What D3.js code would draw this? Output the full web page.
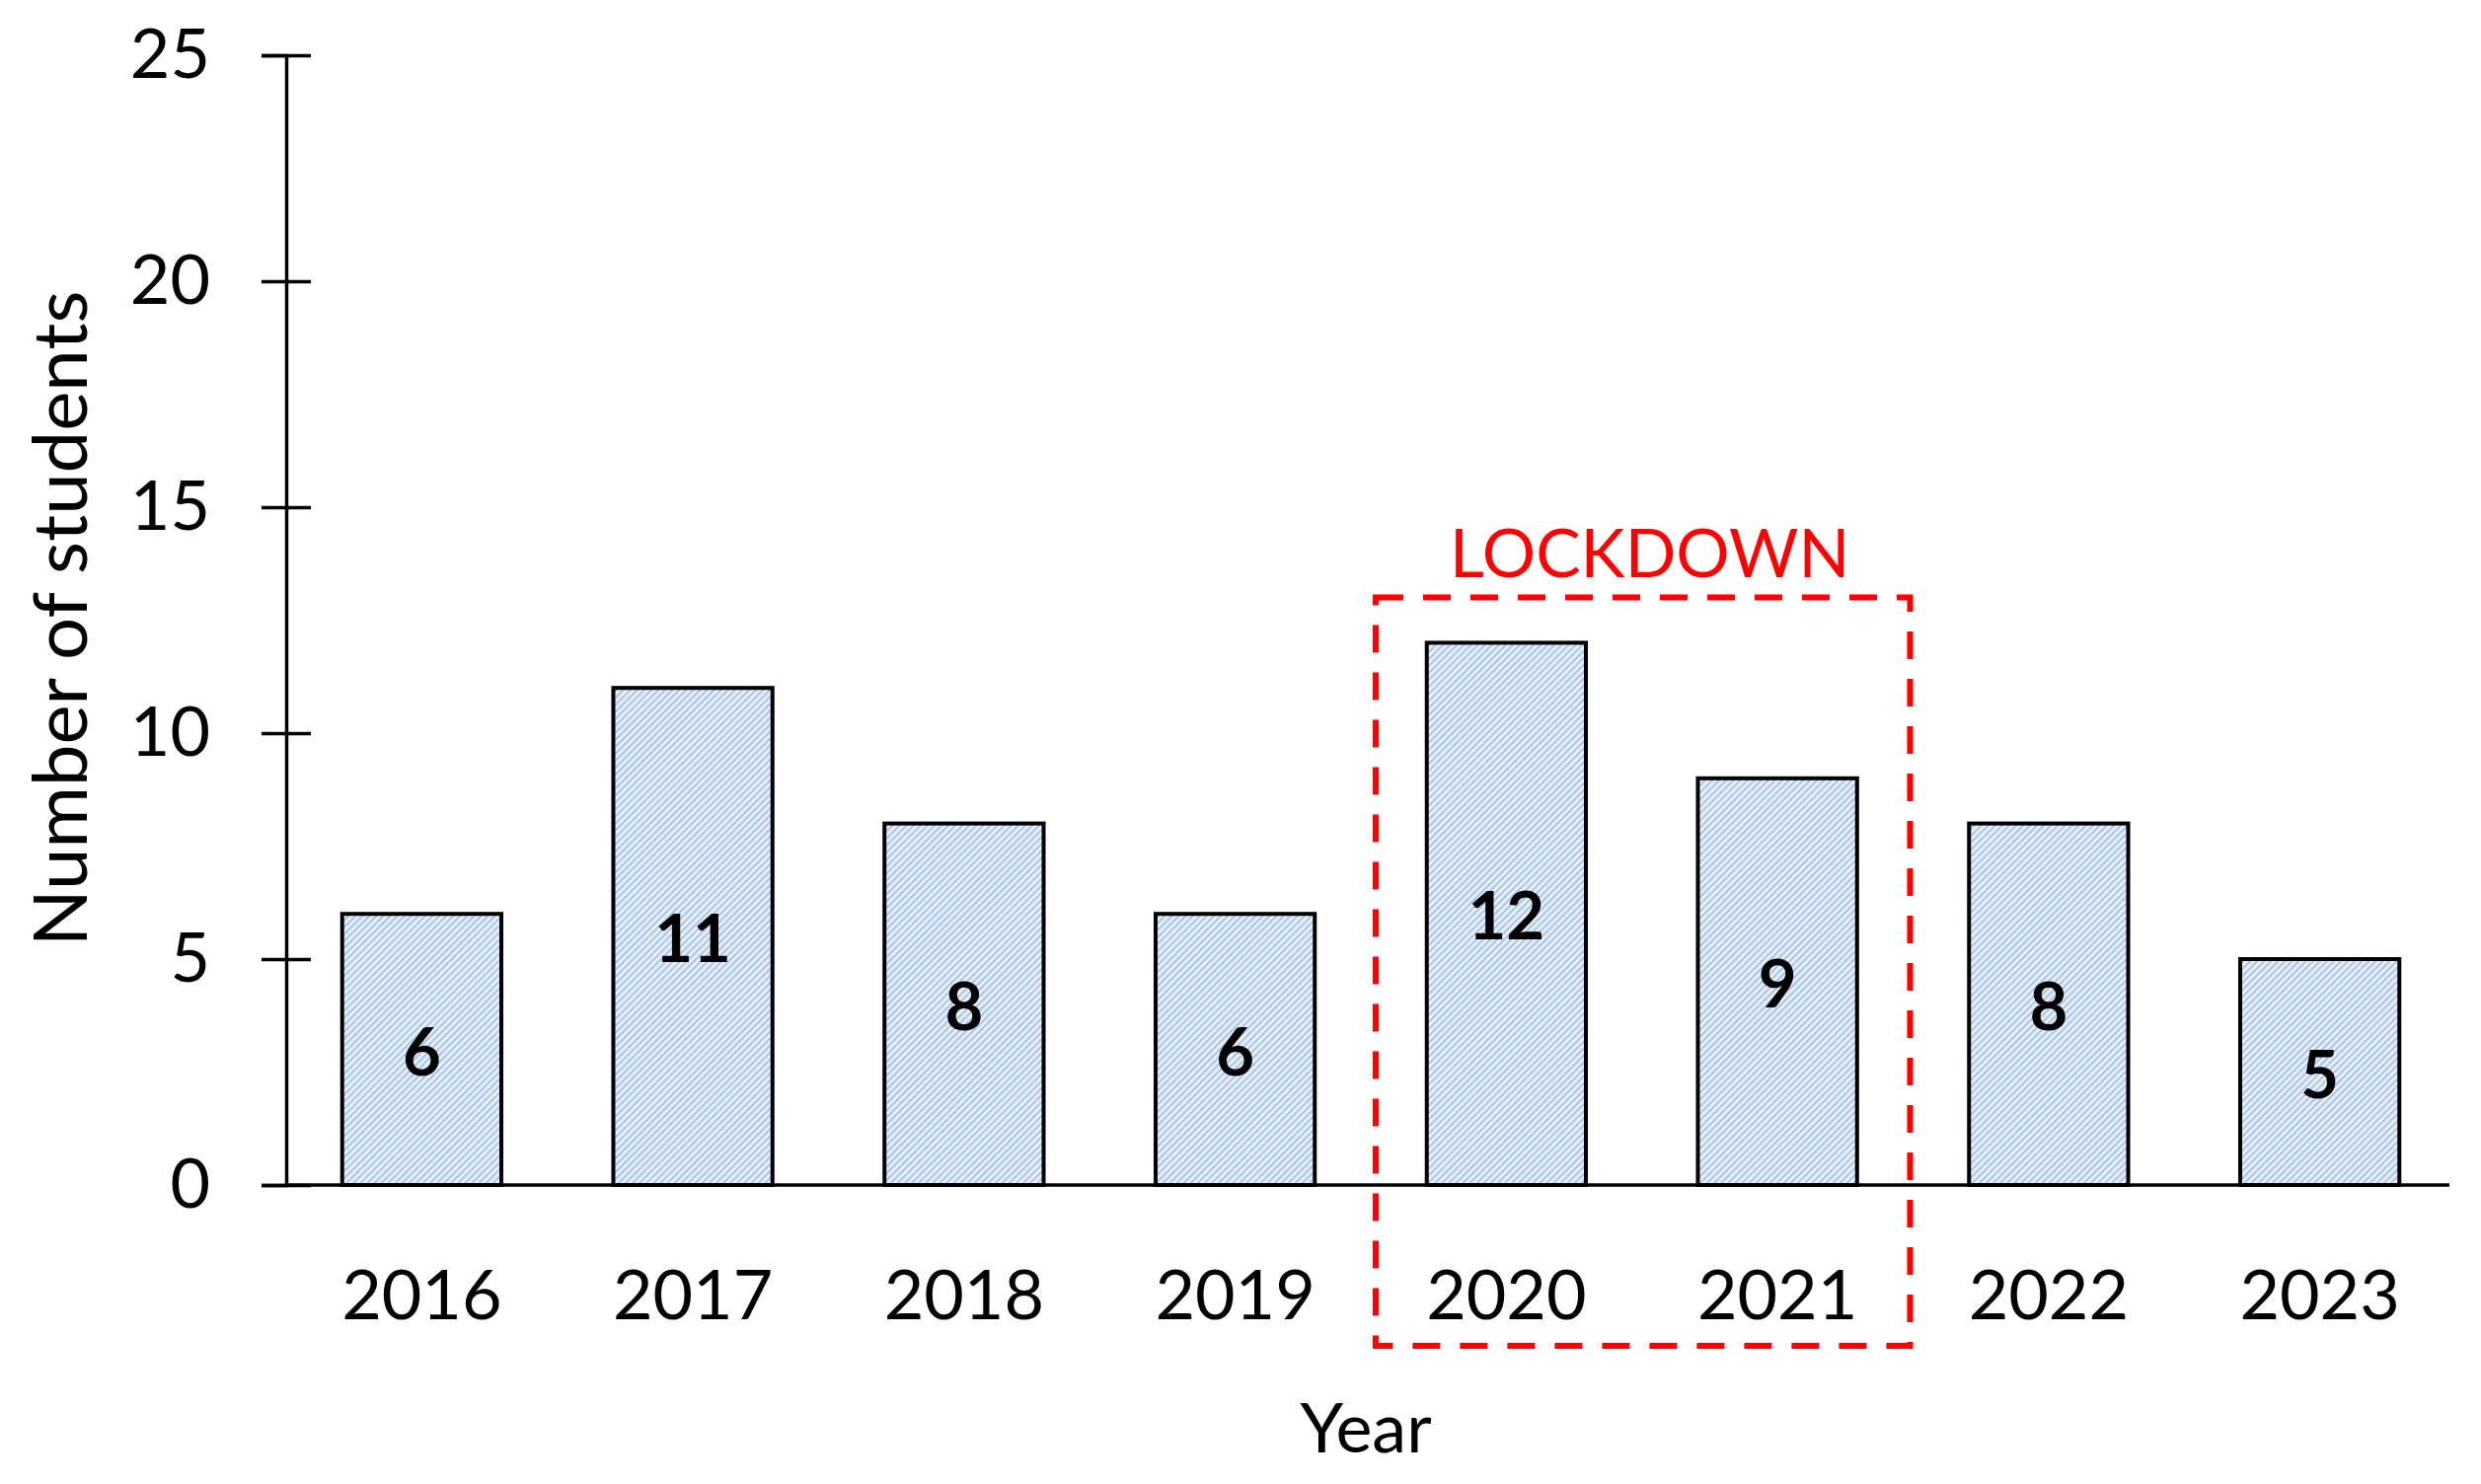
<!DOCTYPE html>
<html>
<head>
<meta charset="utf-8">
<script src="https://cdn.jsdelivr.net/npm/d3@7"></script>
<style>
  html, body { margin: 0; padding: 0; background: #fff; }
  svg { display: block; }
  text { font-family: Lato, "Open Sans", sans-serif; }
</style>
</head>
<body>
<script>
// ---- data ----
const years = ["2016", "2017", "2018", "2019", "2020", "2021", "2022", "2023"];
const students = [6, 11, 8, 6, 12, 9, 8, 5];
const yTicks = [0, 5, 10, 15, 20, 25];
const lockdownYears = ["2020", "2021"];
const lockdownTop = 13;
const lockdownLabel = "LOCKDOWN";
const xTitle = "Year";
const yTitle = "Number of students";

// ---- layout ----
const W = 2514, H = 1504;
const mLeft = 290, mRight = 2488, axisEnd = 2482, mTop = 56, mBottom = 1201;

const svg = d3.select("body").append("svg").attr("width", W).attr("height", H);

const defs = svg.append("defs");
const pat = defs.append("pattern")
  .attr("id", "hatch")
  .attr("patternUnits", "userSpaceOnUse")
  .attr("width", 5).attr("height", 5)
  .attr("patternTransform", "rotate(45)");
pat.append("rect").attr("width", 5).attr("height", 5).attr("fill", "#edf2fb");
pat.append("rect").attr("x", 0).attr("width", 2.2).attr("height", 5).attr("fill", "#a9c5ec");

const x = d3.scaleBand().domain(years).range([mLeft, mRight]).padding(0);
const y = d3.scaleLinear().domain([0, 25]).range([mBottom, mTop]);
const barW = x.bandwidth() * 0.587;

// bars
const g = svg.append("g");
g.selectAll("rect.bar").data(years).join("rect")
  .attr("class", "bar")
  .attr("x", d => x(d) + x.bandwidth() / 2 - barW / 2)
  .attr("y", (d, i) => y(students[i]))
  .attr("width", barW)
  .attr("height", (d, i) => y(0) - y(students[i]))
  .attr("fill", "url(#hatch)")
  .attr("stroke", "#000")
  .attr("stroke-width", 4);

// value labels
g.selectAll("text.val").data(years).join("text")
  .attr("class", "val")
  .attr("x", d => x(d) + x.bandwidth() / 2)
  .attr("y", (d, i) => (y(students[i]) + y(0)) / 2)
  .attr("text-anchor", "middle")
  .attr("dominant-baseline", "central")
  .attr("font-size", 67)
  .attr("font-weight", "bold")
  .attr("fill", "#000")
  .text((d, i) => students[i]);

// y axis
const yAxis = svg.append("g")
  .attr("transform", `translate(${mLeft},0)`)
  .call(d3.axisLeft(y).tickValues(yTicks).tickSizeOuter(0).tickSize(25).tickPadding(52));
yAxis.select(".domain").attr("stroke", "#000").attr("stroke-width", 3.5);
yAxis.selectAll(".tick line").attr("x1", -25).attr("x2", 25).attr("stroke", "#000").attr("stroke-width", 3.5);
yAxis.selectAll(".tick text")
  .attr("font-size", 70).attr("font-family", "Lato, sans-serif").attr("fill", "#000");

// x axis
const xAxis = svg.append("g")
  .attr("transform", `translate(0,${mBottom})`)
  .call(d3.axisBottom(x).tickSize(0).tickSizeOuter(0).tickPadding(85));
xAxis.select(".domain").attr("d", `M${mLeft},0H${axisEnd}`).attr("stroke", "#000").attr("stroke-width", 3.5);
xAxis.selectAll(".tick text")
  .attr("font-size", 70).attr("font-family", "Lato, sans-serif").attr("fill", "#000")
  .attr("dy", "0")
  .attr("dominant-baseline", "central").attr("y", 109);

// axis titles
svg.append("text")
  .attr("x", 1384)
  .attr("y", 1472)
  .attr("text-anchor", "middle")
  .attr("font-size", 70)
  .attr("fill", "#000")
  .text(xTitle);

svg.append("text")
  .attr("transform", `translate(88,${627}) rotate(-90)`)
  .attr("text-anchor", "middle")
  .attr("font-size", 76)
  .attr("fill", "#000")
  .text(yTitle);

// lockdown box
const bx0 = x(lockdownYears[0]) + 5;
const bx1 = x(lockdownYears[1]) + x.bandwidth() - 3;
const by0 = y(lockdownTop);
const by1 = y(0) + 163;
svg.append("rect")
  .attr("x", bx0).attr("y", by0)
  .attr("width", bx1 - bx0).attr("height", by1 - by0)
  .attr("fill", "none")
  .attr("stroke", "#ff0000")
  .attr("stroke-width", 6)
  .attr("stroke-dasharray", "28,20");

svg.append("text")
  .attr("x", (bx0 + bx1) / 2 + 7)
  .attr("y", by0 - 21)
  .attr("text-anchor", "middle")
  .attr("font-size", 68)
  .attr("fill", "#ff0000")
  .text(lockdownLabel);
</script>
</body>
</html>
